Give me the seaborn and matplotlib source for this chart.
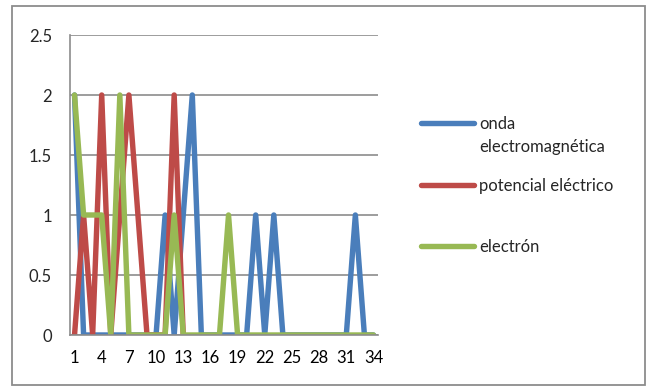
import numpy as np
import pandas as pd
import matplotlib
matplotlib.use("Agg")
import matplotlib.pyplot as plt
import seaborn as sns
from matplotlib.lines import Line2D
from matplotlib.patches import Rectangle

## data (red series has no points after 13)
categorias = list(range(1, 35))
onda = [2, 0, 0, 0, 0, 0, 0, 0, 0, 0, 1, 0, 1, 2, 0, 0, 0, 0, 0, 0,
        1, 0, 1, 0, 0, 0, 0, 0, 0, 0, 0, 1, 0, 0]
potencial = [0, 1, 0, 2, 0, 1, 2, 1, 0, 0, 0, 2, 0] + [np.nan] * 21
electron = [2, 1, 1, 1, 0, 2, 0, 0, 0, 0, 0, 1, 0, 0, 0, 0, 0, 1, 0, 0,
            0, 0, 0, 0, 0, 0, 0, 0, 0, 0, 0, 0, 0, 0]
series = ["onda electromagnética", "potencial eléctrico", "electrón"]
leyenda = ["onda\nelectromagnética", "potencial eléctrico", "electrón"]
colores = ["#4A7EBB", "#BE4B48", "#98B954"]
y_ticks = [0, 0.5, 1, 1.5, 2, 2.5]
x_labels = list(range(1, 35, 3))

sns.set_style("white")
plt.rcParams['font.family'] = ['Lato', 'DejaVu Sans']

df = pd.DataFrame({
    'x': categorias * 3,
    'valor': onda + potencial + electron,
    'serie': [series[0]] * 34 + [series[1]] * 34 + [series[2]] * 34,
}).dropna()

fig = plt.figure(figsize=(6.48, 3.86), dpi=100)
ax = fig.add_axes([70 / 648, 1 - 335 / 386, 308 / 648, 300 / 386])

sns.lineplot(data=df, x='x', y='valor', hue='serie', hue_order=series,
             palette=colores, linewidth=3.9, legend=False, ax=ax,
             solid_capstyle='round', solid_joinstyle='round')

grid_c = '#8C8C8C'
fs = 12
ax.set_xlim(0.5, 34.5)
ax.set_ylim(0, 2.5)
ax.set_yticks(y_ticks)
ax.set_yticklabels([f"{v:g}" for v in y_ticks])
ax.set_xticks(x_labels)
ax.set_xticks(np.arange(0.5, 35, 1), minor=True)
ax.tick_params(axis='x', which='major', length=0, pad=11, labelsize=fs, colors='black')
ax.tick_params(axis='x', which='minor', length=4, width=1, color=grid_c, direction='out')
ax.tick_params(axis='y', length=5, width=1, color=grid_c, pad=8, labelsize=fs)
ax.yaxis.grid(True, color=grid_c, linewidth=1.2)
ax.set_axisbelow(True)
for s in ['top', 'right']:
    ax.spines[s].set_visible(False)
for s in ['left', 'bottom']:
    ax.spines[s].set_color(grid_c)
    ax.spines[s].set_linewidth(1.2)
ax.set_xlabel('')
ax.set_ylabel('')

# legend drawn at the right like the original
rows = [123, 185, 246]
for lab, col, yy in zip(leyenda, colores, rows):
    yf = 1 - yy / 386
    fig.add_artist(Line2D([421 / 648, 474 / 648], [yf, yf], color=col,
                          linewidth=3.9, solid_capstyle='round'))
    fig.text(479 / 648, yf + 7 / 386, lab, fontsize=fs, va='top', ha='left',
             linespacing=1.55)

# chart border
fig.add_artist(Rectangle((12 / 648, 1 - 385 / 386), 633 / 648, 379 / 386,
                         transform=fig.transFigure, fill=False,
                         edgecolor='#8C8C8C', linewidth=1.3))

fig.savefig('out.png', dpi=100)
